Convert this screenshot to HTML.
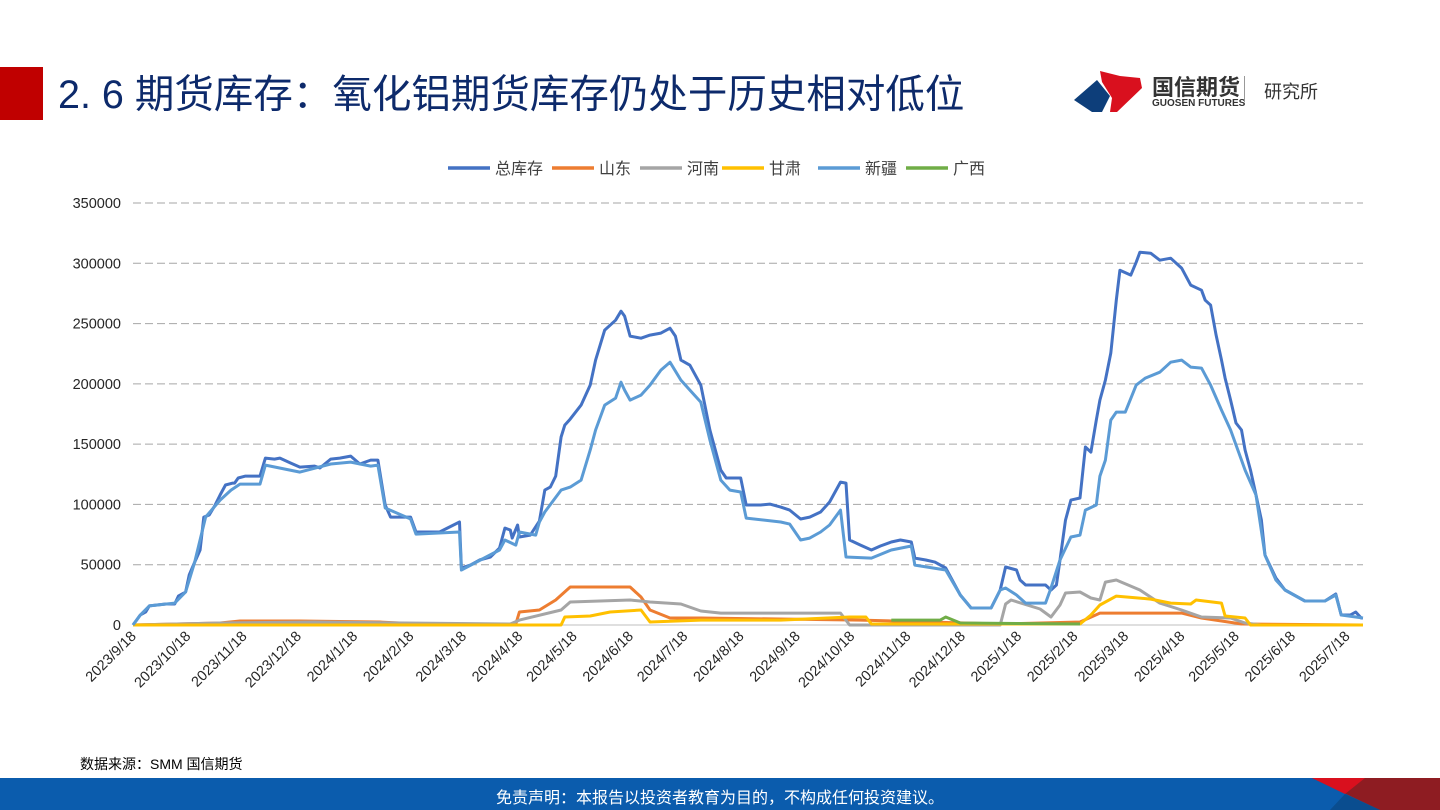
<!DOCTYPE html>
<html><head><meta charset="utf-8">
<style>
body{margin:0;width:1440px;height:810px;overflow:hidden;background:#fff;font-family:"Liberation Sans","Noto Sans CJK SC",sans-serif;position:relative}
.abs{position:absolute}
</style></head><body>
<div class="abs" style="left:0;top:67px;width:43px;height:53px;background:#c00000"></div>
<div class="abs" style="left:58px;top:70px;font-size:39.5px;letter-spacing:0px;color:#0d2a6b;white-space:nowrap;line-height:50px">2. 6 期货库存：氧化铝期货库存仍处于历史相对低位</div>
<div class="abs" style="left:1072px;top:68px;width:290px;height:45px">
<svg width="80" height="45" style="position:absolute;left:0;top:0"><polygon points="2,32 25,12 38,28 30,44 20,44" fill="#0d3e7a"/><polygon points="28,3 48,8 68,10 70,20 45,44 38,44 40,30 30,14" fill="#d9101e"/></svg>
<div class="abs" style="left:80px;top:2px;font-size:22px;color:#333;font-weight:bold;white-space:nowrap">国信期货</div>
<div class="abs" style="left:80px;top:30px;font-size:10px;color:#333;font-weight:bold;white-space:nowrap">GUOSEN FUTURES</div>
<div class="abs" style="left:172px;top:8px;width:1px;height:26px;background:#999"></div>
<div class="abs" style="left:192px;top:10px;font-size:18px;color:#333;white-space:nowrap">研究所</div>
</div>
<svg id="chart" class="abs" style="left:0;top:0" width="1440" height="760"></svg>
<div class="abs" style="left:80px;top:754px;font-size:14px;color:#000">数据来源：SMM 国信期货</div>
<div class="abs" style="left:0;top:778px;width:1440px;height:32px;background:#0b5cad;overflow:hidden">
<svg width="1440" height="32" style="position:absolute;left:0;top:0"><polygon points="1312,0 1440,0 1440,32 1380,32" fill="#8e1c22"/><polygon points="1312,0 1365,0 1345,16" fill="#d9101e"/><polygon points="1345,16 1380,32 1330,32" fill="#0a4d8f"/></svg>
<div style="position:absolute;left:0;width:1440px;top:6px;text-align:center;color:#fff;font-size:16px">免责声明：本报告以投资者教育为目的，不构成任何投资建议。</div>
</div>
<script>
const seriesNames=["总库存","山东","河南","甘肃","新疆","广西"];
const seriesColors=["#4472c4","#ed7d31","#a5a5a5","#ffc000","#5b9bd5","#70ad47"];
const yTicks=[0,50000,100000,150000,200000,250000,300000,350000];
const xTickLabels=["2023/9/18","2023/10/18","2023/11/18","2023/12/18","2024/1/18","2024/2/18","2024/3/18","2024/4/18","2024/5/18","2024/6/18","2024/7/18","2024/8/18","2024/9/18","2024/10/18","2024/11/18","2024/12/18","2025/1/18","2025/2/18","2025/3/18","2025/4/18","2025/5/18","2025/6/18","2025/7/18"];
const xTickDays=[0,30,61,91,122,153,182,213,243,274,304,335,366,396,427,457,488,519,547,578,608,639,669];
const totalData=[[0,0],[4,8300],[7,10800],[9,15800],[18,17400],[23,17400],[25,24000],[29,27400],[31,41500],[34,52200],[37,62200],[39,89500],[42,91200],[45,98700],[48,107800],[51,116100],[55,117700],[56,117700],[58,121900],[62,123500],[70,123500],[73,138400],[78,137600],[81,138400],[87,134300],[92,131000],[100,131800],[103,130200],[109,137600],[114,138400],[120,140100],[125,133500],[131,136800],[135,136800],[139,99500],[142,89500],[153,89500],[156,77100],[169,77100],[180,85400],[181,47300],[186,49700],[191,53900],[197,56400],[202,63800],[205,80400],[208,78800],[209,72100],[212,82900],[213,73000],[219,74600],[224,86200],[227,111900],[230,114400],[233,123500],[236,155900],[238,165800],[241,170800],[247,182400],[252,199000],[255,219700],[260,244600],[266,252800],[269,260300],[271,256200],[274,239600],[280,237900],[285,240400],[291,242100],[296,246200],[299,239600],[302,219700],[307,215500],[313,199000],[318,161700],[324,128500],[327,121900],[335,121900],[338,99500],[346,99500],[351,100300],[357,97800],[362,95300],[368,87900],[373,89500],[379,93700],[384,102000],[390,118500],[393,117700],[395,70500],[401,66300],[407,62200],[412,65500],[418,68800],[423,70500],[429,68800],[431,55500],[437,53900],[442,52200],[448,47300],[456,24900],[462,14100],[473,14100],[478,29000],[481,48100],[487,45600],[489,37300],[492,33200],[503,33200],[506,29000],[509,33200],[511,53900],[514,87000],[517,103600],[522,105300],[525,147600],[528,143400],[531,169900],[533,186500],[536,203100],[539,225500],[542,269400],[544,294300],[550,290200],[553,300900],[555,309200],[561,308400],[566,302600],[572,304200],[578,296000],[583,281900],[589,277700],[591,269400],[594,265300],[597,240400],[600,219700],[602,204800],[605,186500],[608,167500],[611,161700],[613,145100],[616,128500],[619,107800],[622,87000],[624,58000],[630,39000],[635,29000],[646,19900],[657,19900],[663,25700],[666,8300],[671,8300],[674,10800],[677,5800],[678,5800]];
const shandongData=[[0,0],[48,1700],[59,3300],[92,3300],[136,2500],[158,800],[211,800],[213,10800],[224,12400],[233,20700],[241,31500],[274,31500],[280,23200],[285,12400],[296,5800],[313,5800],[401,4100],[478,800],[522,2500],[533,9900],[578,9900],[589,5800],[611,800],[678,0]];
const henanData=[[0,0],[48,1700],[100,2500],[150,1700],[208,800],[213,4100],[236,12400],[241,19100],[274,20700],[285,19100],[302,17400],[313,11600],[324,9900],[390,9900],[395,0],[478,0],[481,17400],[484,20700],[500,13300],[506,6600],[511,16600],[514,26500],[522,27400],[528,22400],[533,20700],[536,35600],[542,37300],[555,29000],[566,18200],[578,12400],[589,6600],[605,5800],[613,1700],[622,0],[678,0]];
const gansuData=[[0,0],[236,0],[238,6600],[252,7500],[263,10800],[280,12400],[285,2500],[313,4100],[357,4100],[395,6600],[404,6600],[407,800],[522,800],[528,8300],[533,16600],[542,24000],[561,21500],[572,18200],[583,17400],[586,20700],[600,18200],[602,7500],[613,5800],[616,0],[678,0]];
const xinjiangData=[[0,0],[4,8300],[9,15800],[23,18200],[29,27400],[34,52200],[40,89500],[48,103600],[54,111900],[59,116900],[70,116900],[73,132600],[92,126800],[109,133500],[120,135100],[131,131800],[135,132600],[139,97000],[153,87900],[156,75400],[180,77100],[181,45600],[202,62200],[205,70500],[211,66300],[213,77100],[222,74600],[224,85400],[227,93700],[236,111900],[241,114400],[247,120200],[252,145100],[255,161700],[260,182400],[266,188200],[269,201400],[271,194800],[274,186500],[280,190700],[285,199000],[291,211400],[296,218000],[302,203100],[307,194800],[313,184900],[318,153400],[324,120200],[329,111900],[335,110300],[338,88700],[357,85400],[362,83700],[368,70500],[373,72100],[379,77100],[384,82900],[390,95300],[393,56400],[407,55500],[418,62200],[429,65500],[431,49700],[448,45600],[456,24900],[462,14100],[473,14100],[478,29000],[481,30700],[487,24900],[492,18200],[503,18200],[506,30700],[511,53900],[517,73000],[522,74600],[525,95300],[531,99500],[533,123500],[536,136800],[539,169900],[542,176600],[547,176600],[553,199000],[558,204800],[566,209700],[572,218000],[578,219700],[583,213900],[589,213100],[594,199000],[600,178200],[605,161700],[611,136800],[613,128500],[619,107800],[624,58000],[630,37300],[635,29000],[646,19900],[657,19900],[663,24900],[666,8300],[678,5800]];
const guangxiData=[[418,4100],[445,4100],[448,6600],[456,1700],[522,800]];
const allData=[totalData,shandongData,henanData,gansuData,xinjiangData,guangxiData];

const NS="http://www.w3.org/2000/svg";
const svg=document.getElementById('chart');
const X0=133,X1=1363,Y0=625,Y1=203,DMAX=678,VMAX=350000;
function xs(d){return X0+(X1-X0)*d/DMAX;}
function ys(v){return Y0-(Y0-Y1)*v/VMAX;}
function mk(t,a){const e=document.createElementNS(NS,t);for(const k in a)e.setAttribute(k,a[k]);svg.appendChild(e);return e;}
yTicks.forEach((v,i)=>{
  if(v>0){const g=mk('line',{x1:X0,x2:X1,y1:ys(v),y2:ys(v),stroke:'#a6a6a6','stroke-width':1,'stroke-dasharray':'8,4'});
  
  }
  const t=mk('text',{x:121,y:ys(v)+5,'text-anchor':'end','font-size':14.5,fill:'#262626'});
  
  
  t.textContent=v;
});
const ax=mk('line',{x1:X0,x2:X1,y1:Y0,y2:Y0,stroke:'#bfbfbf','stroke-width':1});


xTickDays.forEach((d,i)=>{
  const x=xs(d);
  const t=mk('text',{x:x+4,y:Y0+12,'text-anchor':'end','font-size':14.5,fill:'#262626',transform:`rotate(-45 ${x+4} ${Y0+12})`});
  
  
  t.textContent=xTickLabels[i];
});
const order=[0,1,2,3,4,5];
order.forEach(i=>{
  const pts=allData[i].map(p=>xs(p[0]).toFixed(1)+','+ys(p[1]).toFixed(1)).join(' ');
  const pl=mk('polyline',{points:pts,fill:'none',stroke:seriesColors[i],'stroke-width':3,'stroke-linejoin':'round'});
  
  
});
const legX=[448,552,640,722,818,906];
seriesNames.forEach((n,i)=>{
  const l=mk('line',{x1:legX[i],x2:legX[i]+42,y1:168,y2:168,stroke:seriesColors[i],'stroke-width':3.5});
  
  
  const t=mk('text',{x:legX[i]+47,y:174,'font-size':16,fill:'#404040'});
  
  
  t.textContent=n;
});
</script>
</body></html>
